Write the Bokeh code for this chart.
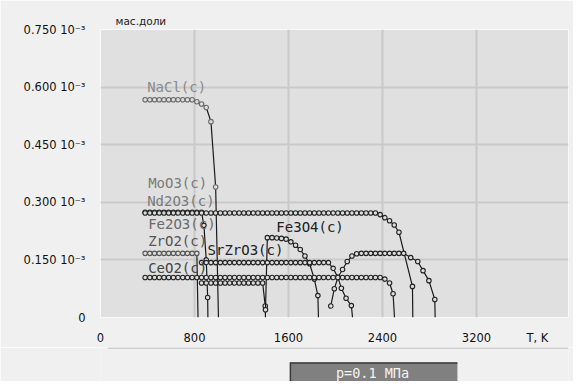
from bokeh.plotting import figure
from bokeh.models import FixedTicker, Range1d, ColumnDataSource
from bokeh.layouts import column
from bokeh.embed import file_html
from bokeh.resources import INLINE
from bokeh.core.properties import value

# ---------------- data (mass fraction in units of 1e-3, T in K) ----------------
X_TICKS = [0, 800, 1600, 2400, 3200]
X_LABELS = ["0", "800", "1600", "2400", "3200"]
X_UNIT_POS = 3719
X_UNIT = "T, K"
Y_TICKS = [0, 0.15, 0.30, 0.45, 0.60, 0.75]
Y_LABELS = ["0", "0.150 10\u207b\u00b3", "0.300 10\u207b\u00b3", "0.450 10\u207b\u00b3",
            "0.600 10\u207b\u00b3", "0.750 10\u207b\u00b3"]
Y_UNIT = "\u043c\u0430\u0441.\u0434\u043e\u043b\u0438"
PRESSURE = "p=0.1 \u041c\u041f\u0430"

T_GRID = [380, 420, 460, 500, 540, 580, 620, 660, 700, 740, 780, 820, 860, 900, 940, 980,
          1020, 1060, 1100, 1140, 1180, 1220, 1260, 1300, 1340, 1380, 1420, 1460, 1500,
          1540, 1580, 1620, 1660, 1700, 1740, 1780, 1820, 1860, 1900, 1940, 1980, 2020,
          2060, 2100, 2140, 2180, 2220, 2260, 2300, 2340, 2380, 2420, 2460, 2500, 2540,
          2580, 2620, 2660, 2700, 2740, 2780, 2820, 2860]

NACL_T = T_GRID[0:16] + [1004]
NACL_V = [0.567] * 11 + [0.562, 0.556, 0.547, 0.510, 0.340, 0.0]

MOO3_T = T_GRID[0:13] + [880, 900, 912, 914]
MOO3_V = [0.274] * 13 + [0.240, 0.150, 0.052, 0.0]

ND2O3_T = T_GRID[0:55] + [2655, 2658]
ND2O3_V = [0.272] * 50 + [0.268, 0.260, 0.252, 0.241, 0.222, 0.081, 0.0]

FE2O3_T = T_GRID[12:26] + [1402, 1404]
FE2O3_V = [0.090] * 14 + [0.030, 0.0]

FE3O4_T = [1404, 1420, 1460, 1500, 1540, 1580, 1620, 1660, 1700, 1740, 1780, 1820, 1850, 1855]
FE3O4_V = [0.020, 0.208, 0.208, 0.207, 0.206, 0.204, 0.197, 0.188, 0.177, 0.160, 0.140, 0.100, 0.057, 0.0]

ZRO2_A_T = T_GRID[0:12] + [830]
ZRO2_A_V = [0.167] * 12 + [0.0]
ZRO2_B_T = [1960, 1990, 2020, 2060, 2100, 2140, 2180] + T_GRID[46:56] + [2640, 2700, 2745, 2795, 2845, 2848]
ZRO2_B_V = [0.030, 0.075, 0.104, 0.125, 0.146, 0.160, 0.166] + [0.167] * 10 + [0.156, 0.146, 0.122, 0.096, 0.047, 0.0]

SRZRO3_T = T_GRID[12:40] + [1980, 2020, 2050, 2090, 2135, 2145]
SRZRO3_V = [0.143] * 28 + [0.128, 0.105, 0.076, 0.050, 0.031, 0.0]

CEO2_T = T_GRID[0:53] + [2490, 2502]
CEO2_V = [0.104] * 51 + [0.100, 0.090, 0.062, 0.0]

# name, T, values, marker outline colour
SERIES = [
    ("NaCl(c)", NACL_T, NACL_V, "#6a6a6a"),
    ("MoO3(c)", MOO3_T, MOO3_V, "#222222"),
    ("Nd2O3(c)", ND2O3_T, ND2O3_V, "#222222"),
    ("Fe2O3(c)", FE2O3_T, FE2O3_V, "#222222"),
    ("Fe3O4(c)", FE3O4_T, FE3O4_V, "#222222"),
    ("ZrO2(c)", ZRO2_A_T, ZRO2_A_V, "#555555"),
    ("ZrO2(c)", ZRO2_B_T, ZRO2_B_V, "#222222"),
    ("SrZrO3(c)", SRZRO3_T, SRZRO3_V, "#222222"),
    ("CeO2(c)", CEO2_T, CEO2_V, "#222222"),
]

# label: text, anchor series index, anchor point index, pixel offset (dx, dy), colour
LABELS = [
    ("NaCl(c)", 0, 0, (2, -13), "#8a8a8a"),
    ("MoO3(c)", 1, 0, (3, -29), "#7a7a7a"),
    ("Nd2O3(c)", 2, 0, (2, -12), "#7a7a7a"),
    ("Fe2O3(c)", 2, 0, (3, 11), "#6a6a6a"),
    ("ZrO2(c)", 5, 0, (3, -12), "#555555"),
    ("SrZrO3(c)", 7, 0, (6, -13), "#222222"),
    ("CeO2(c)", 8, 0, (3, -10), "#444444"),
    ("Fe3O4(c)", 4, 1, (9, -11), "#222222"),
]

BG = "#f0f0f0"

p = figure(frame_width=468, frame_height=288,
           x_range=Range1d(0, 3983), y_range=Range1d(0, 0.75),
           output_backend="svg", toolbar_location=None,
           min_border_left=100, min_border_right=5, min_border_top=29, min_border_bottom=30,
           background_fill_color="#e0e0e0", border_fill_color=BG)
p.outline_line_color = "#fafafa"

for ax in (p.xaxis[0], p.yaxis[0]):
    ax.axis_line_color = None
    ax.major_tick_line_color = None
    ax.minor_tick_line_color = None
    ax.major_label_text_font = "DejaVu Sans"
    ax.major_label_text_font_size = "11.5px"
    ax.major_label_text_color = "#111111"

p.xaxis.ticker = FixedTicker(ticks=X_TICKS + [X_UNIT_POS])
overrides = {t: s for t, s in zip(X_TICKS, X_LABELS)}
overrides[X_UNIT_POS] = X_UNIT
p.xaxis.major_label_overrides = overrides
p.xaxis.major_label_standoff = 7
p.xgrid.ticker = FixedTicker(ticks=X_TICKS)
p.yaxis.ticker = FixedTicker(ticks=Y_TICKS)
p.yaxis.major_label_overrides = {t: s for t, s in zip(Y_TICKS, Y_LABELS)}
p.yaxis.major_label_standoff = 9

p.grid.grid_line_color = "#c9c9c9"
p.grid.grid_line_width = 2

p.title.text = Y_UNIT
p.title.align = "left"
p.title.offset = 15
p.title.text_font = "DejaVu Sans"
p.title.text_font_size = "10.5px"
p.title.text_font_style = "normal"
p.title.text_color = "#222222"
p.title.standoff = 5

for name, t, v, mc in SERIES:
    src = ColumnDataSource(dict(t=t, v=v))
    p.line("t", "v", source=src, line_color="#1a1a1a", line_width=1.2)
    marker_src = ColumnDataSource(dict(t=t[:-1], v=v[:-1]))
    p.scatter("t", "v", source=marker_src, marker="circle", size=4.5,
              line_color=mc, line_width=1.1, fill_color="#dedede")

for text, idx, k, (dx, dy), col in LABELS:
    _, t, v, _ = SERIES[idx]
    p.text(x=[t[k]], y=[v[k]], text=[text], x_offset=dx, y_offset=dy,
           text_font=value("DejaVu Sans Mono"), text_font_size="14px",
           text_color=col, text_baseline="middle", text_align="left")

# bottom band with pressure caption
p2 = figure(width=573, height=34, x_range=Range1d(0, 573), y_range=Range1d(0, 34),
            output_backend="svg", toolbar_location=None,
            min_border=0, background_fill_color=BG, border_fill_color=BG)
p2.outline_line_color = None
p2.axis.visible = False
p2.grid.visible = False
p2.segment(x0=[9], y0=[33.5], x1=[573], y1=[33.5], line_color="#c4c4c4", line_width=1.5)
p2.quad(left=[232], right=[437], top=[19], bottom=[-6], fill_color="#808080", line_color=None)
p2.segment(x0=[232, 232.5], y0=[18.5, 19], x1=[437, 232.5], y1=[18.5, -6],
           line_color="#3a3a3a", line_width=1.5)
p2.text(x=[333], y=[8.5], text=[PRESSURE], text_align="center", text_baseline="middle",
        text_font=value("DejaVu Sans Mono"), text_font_size="13.5px", text_color="#f4f4f4")

layout = column(p, p2, spacing=0)
open("out.html", "w").write(file_html(layout, INLINE))
